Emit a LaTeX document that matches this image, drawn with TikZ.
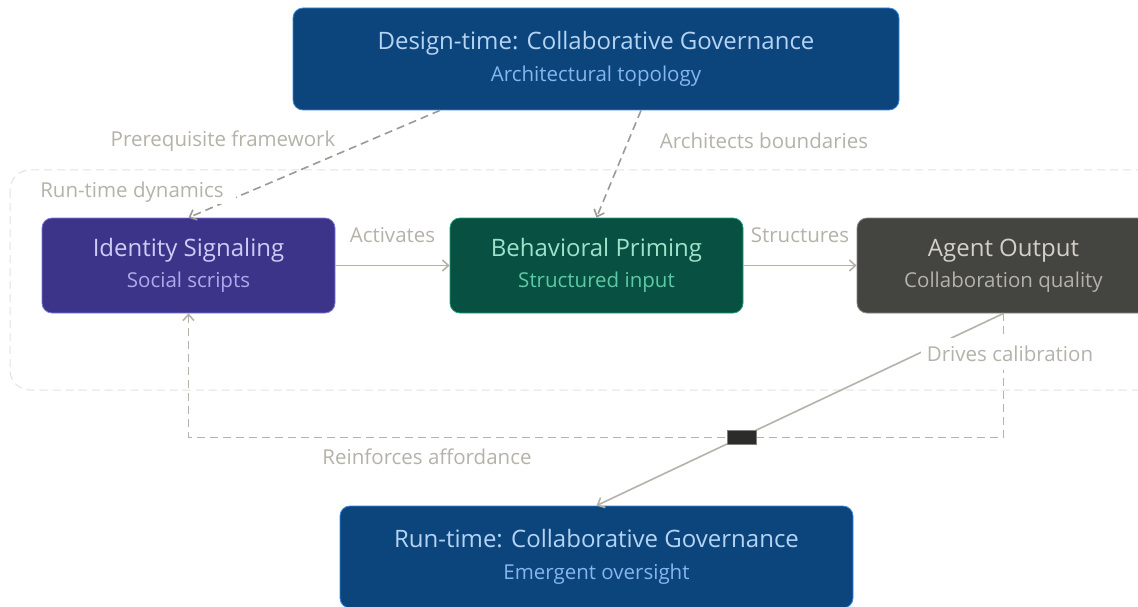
\documentclass[tikz,border=0pt]{standalone}
\usepackage{fontspec}
\setmainfont{Open Sans}
\usetikzlibrary{arrows.meta,calc}
\definecolor{govfill}{HTML}{0C447C}
\definecolor{govdraw}{HTML}{378ADD}
\definecolor{govtitle}{HTML}{B5D4F4}
\definecolor{govsub}{HTML}{85B7EB}
\definecolor{purfill}{HTML}{3C3489}
\definecolor{purdraw}{HTML}{7F77DD}
\definecolor{purtitle}{HTML}{CECBF6}
\definecolor{pursub}{HTML}{AFA9EC}
\definecolor{grnfill}{HTML}{085041}
\definecolor{grndraw}{HTML}{1D9E75}
\definecolor{grntitle}{HTML}{9FE1CB}
\definecolor{grnsub}{HTML}{5DCAA5}
\definecolor{gryfill}{HTML}{444441}
\definecolor{grydraw}{HTML}{888780}
\definecolor{grytitle}{HTML}{D3D1C7}
\definecolor{grysub}{HTML}{B4B2A9}
\definecolor{lblcol}{HTML}{B4B2A9}
\definecolor{conncol}{HTML}{B4B2A9}
\definecolor{dashcol}{HTML}{9C9A94}
\definecolor{framecol}{HTML}{E2E2E0}
\definecolor{darkmark}{HTML}{2C2C2A}
\newcommand{\ttlfont}{\fontsize{24}{28}\selectfont}
\newcommand{\subfnt}{\fontsize{20.5}{24}\selectfont}
\begin{document}
\begin{tikzpicture}[x=1pt,y=-1pt,
  boxstyle/.style={rectangle, rounded corners=10pt, line width=0.8pt, align=center, inner sep=0pt},
  bigbox/.style={boxstyle, font=\fontsize{20.5}{32}\selectfont},
  midbox/.style={boxstyle, font=\fontsize{20.5}{31}\selectfont, minimum width=293pt, minimum height=95pt},
  lbl/.style={text=lblcol, font=\fontsize{20.5}{24}\selectfont, inner sep=2pt},
  conn/.style={draw=conncol, line width=1.6pt, -{Straight Barb[length=6pt,width=11pt]}},
  dconn/.style={draw=dashcol, line width=1.6pt, dash pattern=on 8pt off 5pt, -{Straight Barb[length=6pt,width=11pt]}},
  lconn/.style={draw=conncol, line width=1.6pt, dash pattern=on 8pt off 5pt, -{Straight Barb[length=6pt,width=11pt]}}
]
\useasboundingbox (0,0) rectangle (1138,607);
\fill[white] (0,0) rectangle (1138,607);

% run-time container
\draw[framecol, line width=1pt, dash pattern=on 8pt off 5pt, rounded corners=20pt] (10,170) rectangle (1160,390);

% boxes
\node[bigbox, fill=govfill, draw=govdraw, minimum width=606pt, minimum height=102pt] (design) at (596,59)
  {{\color{govtitle}\ttlfont Design-time: Collaborative Governance}\\{\color{govsub}\subfnt Architectural topology}};
\node[midbox, fill=purfill, draw=purdraw] (ident) at (188.5,265.5)
  {{\color{purtitle}\ttlfont Identity Signaling}\\{\color{pursub}\subfnt Social scripts}};
\node[midbox, fill=grnfill, draw=grndraw] (behav) at (596.5,265.5)
  {{\color{grntitle}\ttlfont Behavioral Priming}\\{\color{grnsub}\subfnt Structured input}};
\node[midbox, fill=gryfill, draw=grydraw] (agent) at (1003.5,265.5)
  {{\color{grytitle}\ttlfont Agent Output}\\{\color{grysub}\subfnt Collaboration quality}};
\node[bigbox, fill=govfill, draw=govdraw, minimum width=513pt, minimum height=102pt] (runtime) at (596.5,557)
  {{\color{govtitle}\ttlfont Run-time: Collaborative Governance}\\{\color{govsub}\subfnt Emergent oversight}};

% connectors
\draw[dconn] ([xshift=-156pt]design.south) -- (ident.north);
\draw[dconn] ([xshift=45pt]design.south) -- (behav.north);
\draw[conn] (ident.east) -- node[lbl, above=20pt] (lact) {Activates} (behav.west);
\draw[conn] (behav.east) -- node[lbl, above=20pt] (lstr) {Structures} (agent.west);
\coordinate (loopr) at ($(agent.south)+(0,124)$);
\coordinate (loopl) at ($(ident.south)+(0,124)$);
\draw[lconn] (agent.south) -- (loopr) -- (loopl) -- (ident.south);
\draw[conn] (agent.south) -- (runtime.north);

% labels
\node[lbl] (lpre) at (223,141) {Prerequisite framework};
\node[lbl] (larc) at (764,141) {Architects boundaries};
\node[lbl, fill=white, inner xsep=12pt] (lrun) at (132,192) {Run-time dynamics};
\node[lbl, fill=white, inner xsep=6pt, inner ysep=8pt] (ldrv) at (1010,354) {Drives calibration};
\node[lbl] (lrei) at (427,457) {Reinforces affordance};
\node[rectangle, fill=darkmark, draw=gray, line width=0.5pt, minimum width=29pt, minimum height=14pt, inner sep=0pt] (mark) at (742,437) {};
\end{tikzpicture}
\end{document}
